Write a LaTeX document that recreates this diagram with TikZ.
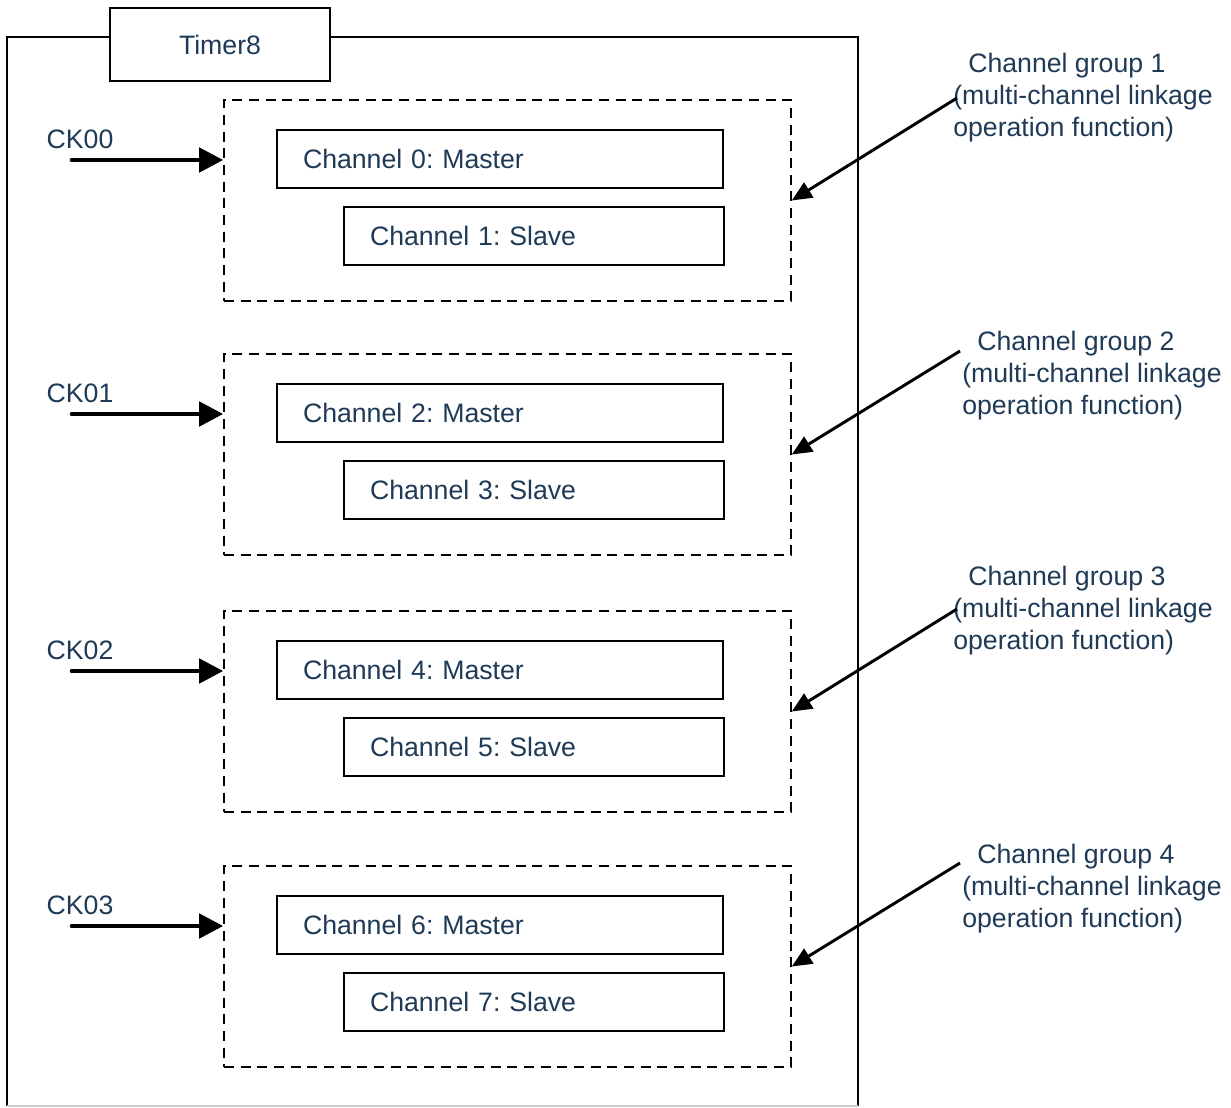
\documentclass[tikz,border=0pt]{standalone}
\usepackage{fontspec}
\setmainfont{Liberation Sans}
\usetikzlibrary{arrows.meta}
\definecolor{labeltext}{HTML}{1F3A56}

\begin{document}
\frenchspacing
\begin{tikzpicture}[x=0.75pt, y=-0.75pt,
      every node/.style={font=\fontsize{20}{24}\selectfont, text=labeltext},
      titlebox/.style={draw, line width=2pt, fill=white, minimum width=165pt, minimum height=54.75pt},
      groupbox/.style={draw, dash pattern=on 7.5pt off 5pt, line width=1.2pt,
                       minimum width=425.25pt, minimum height=150.75pt},
      master/.style={draw, line width=1.2pt, minimum width=334.5pt, minimum height=43.5pt,
                     text width=295.5pt, inner xsep=19.5pt, align=left},
      slave/.style={master, minimum width=285pt, text width=246pt},
      note/.style={align=left, inner sep=0pt, anchor=west},
      ckarrow/.style={line width=3.5pt, line cap=round, -{Triangle[length=18pt, width=18pt]}},
      grparrow/.style={line width=2.2pt, -{Triangle[length=15pt, width=13pt]}}
    ]
      \useasboundingbox (0,0) rectangle (1231,1107);

      % outer frame of the timer
      \draw[line width=1.1pt] (7,1106) -- (7,37) -- (858,37) -- (858,1106);
      \draw[gray!40, line width=1pt] (7,1106) -- (858,1106);
      \node[titlebox] (timer) at (220,44.5) {Timer8};

      \foreach \g/\top/\nx/\ny/\ax/\ay in {0/100/953/98/957/98, 1/354/962/376/960/351,
                                          2/611/953/611/957/609, 3/866/962/889/960/863}{
        \pgfmathtruncatemacro\cm{2*\g}
        \pgfmathtruncatemacro\cs{2*\g+1}
        \pgfmathtruncatemacro\gn{\g+1}

        \node[groupbox] (grp\g) at (507.5,\top+100.5) {};
        \node[master] (mst\g) at (500,\top+59) {Channel \cm: Master};
        \node[slave] (slv\g) at (534,\top+136) {Channel \cs: Slave};

        % clock input
        \node (ck\g) at (80,\top+39) {CK0\g};
        \coordinate (ckin\g) at (72,\top+60);
        \draw[ckarrow] (ckin\g) -- (ckin\g -| grp\g.west);

        % group annotation
        \node[note] (note\g) at (\nx,\ny) {\hspace*{11.25pt}Channel group \gn\\(multi-channel linkage\\operation function)};
        \coordinate (nin\g) at (\ax,\ay);
        \draw[grparrow] (nin\g) -- (grp\g.east);
      }
    \end{tikzpicture}
\end{document}
